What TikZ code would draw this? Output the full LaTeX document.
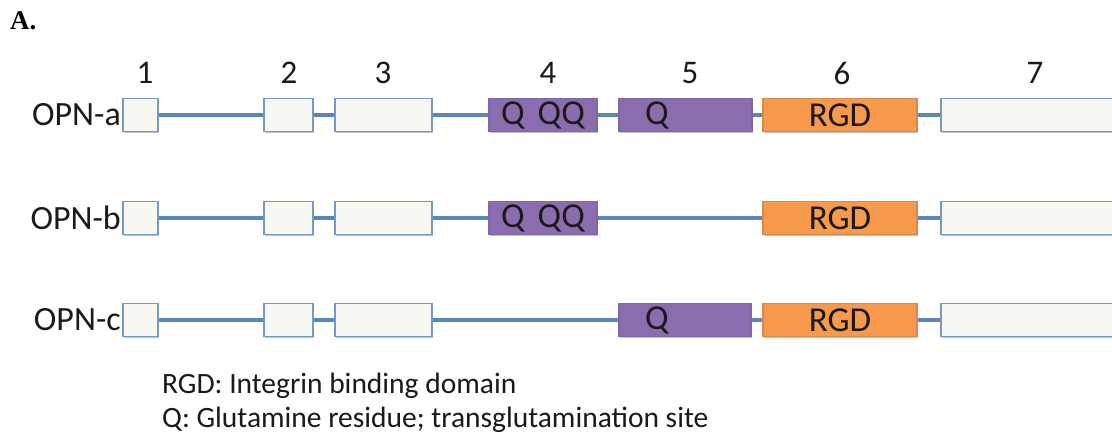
\documentclass[tikz,border=0pt]{standalone}
\usepackage{fontspec}
\setmainfont{Carlito}
\newfontfamily\serifA{Liberation Serif}
\usetikzlibrary{shadows}
\definecolor{exfill}{HTML}{F8F8F3}
\definecolor{exborder}{HTML}{7399C6}
\definecolor{intron}{HTML}{5A86BC}
\definecolor{qfill}{HTML}{8B6DAF}
\definecolor{qborder}{HTML}{7A68A8}
\definecolor{rgdfill}{HTML}{F89A4C}
\definecolor{rgdborder}{HTML}{D9884A}
\definecolor{txt}{HTML}{1A1A1A}
\tikzset{
  exon/.style={rectangle, draw=exborder, fill=exfill, line width=1.4pt, minimum height=33pt, inner sep=0pt,
    drop shadow={shadow xshift=0.8pt, shadow yshift=-1.8pt, opacity=0.4, fill=black!60}},
  qexon/.style={exon, draw=qborder, fill=qfill},
  rgdexon/.style={exon, draw=rgdborder, fill=rgdfill},
  intr/.style={draw=intron, line width=3.4pt},
  lab/.style={font=\fontsize{35}{38}\selectfont, text=txt, inner sep=0pt},
  rowlab/.style={font=\fontsize{34}{36}\selectfont, text=txt, inner sep=0pt, anchor=east},
  num/.style={font=\fontsize{33}{36}\selectfont, text=txt, inner sep=0pt},
  legend/.style={font=\fontsize{29.5}{32}\selectfont, text=txt, inner sep=0pt, anchor=base west},
}
\begin{document}
\begin{tikzpicture}[x=1pt,y=-1pt]
\useasboundingbox (0,0) rectangle (1112,436);
\clip (0,0) rectangle (1112,436);
\fill[white] (0,0) rectangle (1112,436);
\node[font=\serifA\bfseries\fontsize{27}{30}\selectfont, anchor=base west, inner sep=0pt] (A) at (10,30) {A.};
% exon numbers
\node[num] (n1) at (145,73) {1};
\node[num] (n2) at (289,73) {2};
\node[num] (n3) at (383,73) {3};
\node[num] (n4) at (548,73) {4};
\node[num] (n5) at (690,73) {5};
\node[num] (n6) at (842,73) {6};
\node[num] (n7) at (1035,73) {7};
% Row a
\node[rowlab] (la) at (121,115) {OPN-a};
\node[exon, minimum width=35pt] (a1) at (140.5,115) {};
\node[exon, minimum width=49pt] (a2) at (288.5,115) {};
\node[exon, minimum width=97pt] (a3) at (383.5,115) {};
\node[qexon, minimum width=108pt] (a4) at (543,115) {};
\node[qexon, minimum width=133pt] (a5) at (685.5,115) {};
\node[rgdexon, minimum width=154pt] (a6) at (840,115) {};
\node[exon, minimum width=240pt] (a7) at (1061,115) {};
\draw[intr] (a1) -- (a2);
\draw[intr] (a2) -- (a3);
\draw[intr] (a3) -- (a4);
\draw[intr] (a4) -- (a5);
\draw[intr] (a5) -- (a6);
\draw[intr] (a6) -- (a7);
\node[lab] (qa4) at (a4) {Q\hspace{13pt}QQ};
\node[lab] (qa5) at (657,115) {Q};
\node[lab] (ra6) at (a6) {RGD};
% Row b
\node[rowlab] (lb) at (121,218) {OPN-b};
\node[exon, minimum width=35pt] (b1) at (140.5,218) {};
\node[exon, minimum width=49pt] (b2) at (288.5,218) {};
\node[exon, minimum width=97pt] (b3) at (383.5,218) {};
\node[qexon, minimum width=108pt] (b4) at (543,218) {};
\node[rgdexon, minimum width=154pt] (b6) at (840,218) {};
\node[exon, minimum width=240pt] (b7) at (1061,218) {};
\draw[intr] (b1) -- (b2);
\draw[intr] (b2) -- (b3);
\draw[intr] (b3) -- (b4);
\draw[intr] (b4) -- (b6);
\draw[intr] (b6) -- (b7);
\node[lab] (qb4) at (b4) {Q\hspace{13pt}QQ};
\node[lab] (rb6) at (b6) {RGD};
% Row c
\node[rowlab] (lc) at (121,320) {OPN-c};
\node[exon, minimum width=35pt] (c1) at (140.5,320) {};
\node[exon, minimum width=49pt] (c2) at (288.5,320) {};
\node[exon, minimum width=97pt] (c3) at (383.5,320) {};
\node[qexon, minimum width=132pt] (c5) at (685,320) {};
\node[rgdexon, minimum width=154pt] (c6) at (840,320) {};
\node[exon, minimum width=240pt] (c7) at (1061,320) {};
\draw[intr] (c1) -- (c2);
\draw[intr] (c2) -- (c3);
\draw[intr] (c3) -- (c5);
\draw[intr] (c5) -- (c6);
\draw[intr] (c6) -- (c7);
\node[lab] (qc5) at (657,320) {Q};
\node[lab] (rc6) at (c6) {RGD};
% Legend
\node[legend] (leg1) at (162,393) {RGD: Integrin binding domain};
\node[legend] (leg2) at (162,427) {Q: Glutamine residue; transglutamination site};
\end{tikzpicture}
\end{document}
